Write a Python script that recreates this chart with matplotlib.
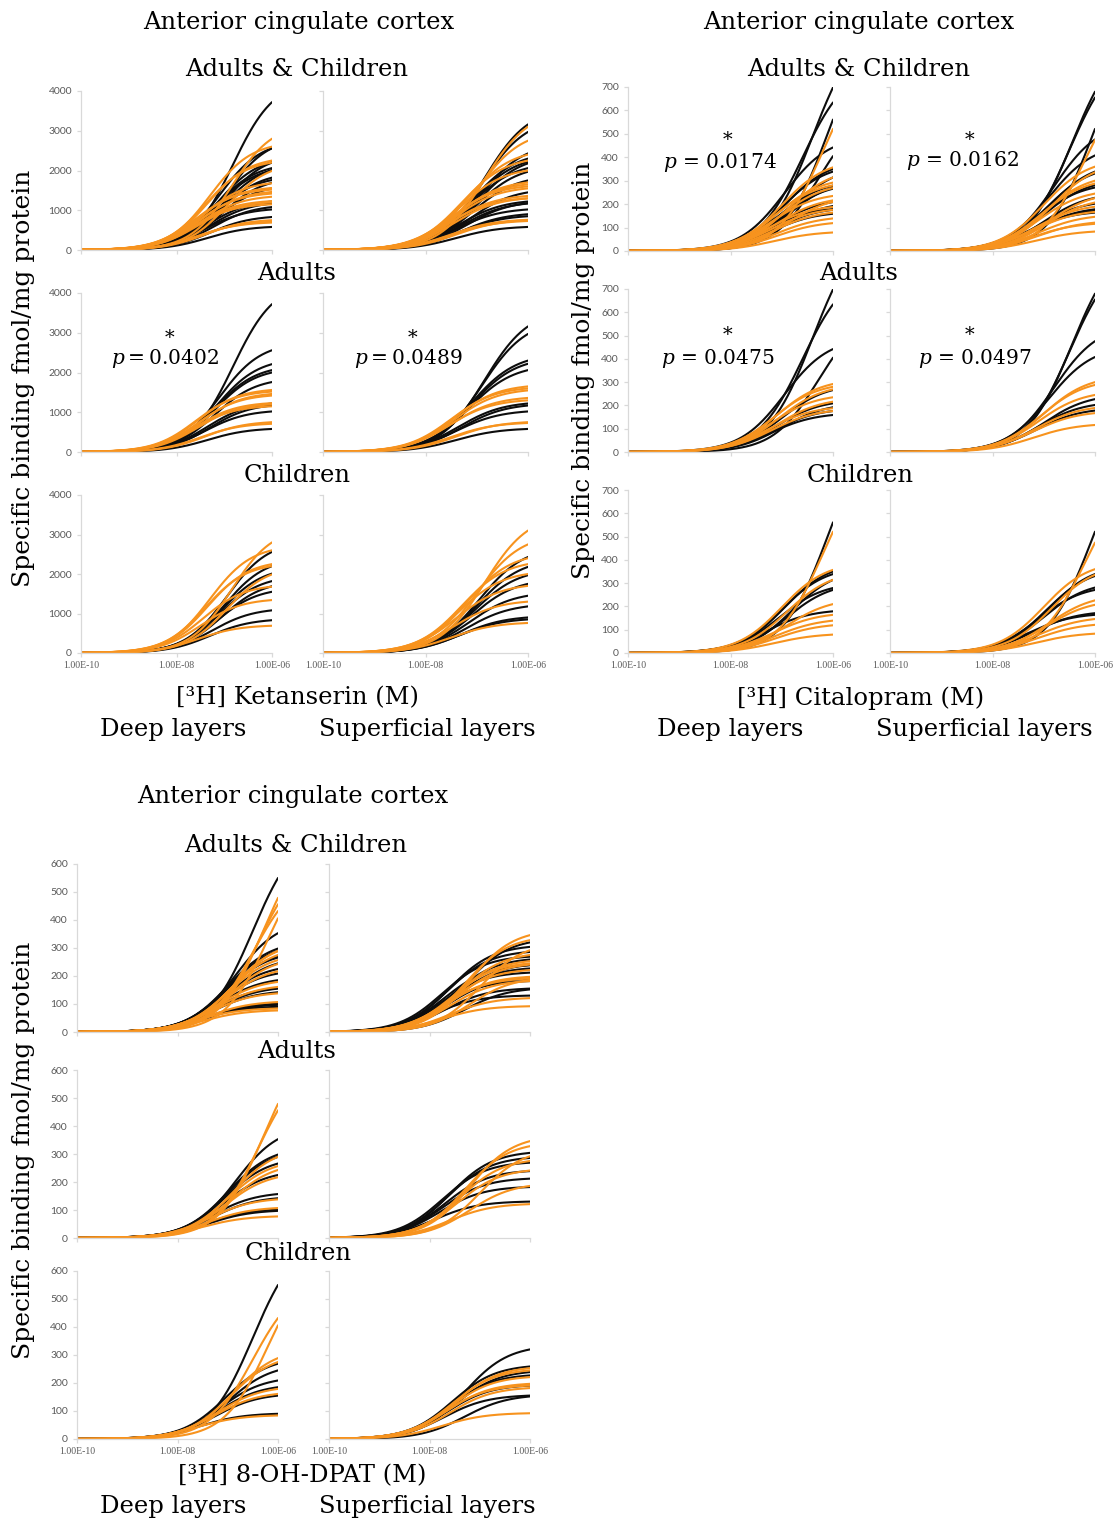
import numpy as np
import matplotlib
matplotlib.use("Agg")
import matplotlib.pyplot as plt

# ---------------- data (value at 1 µM, log10 Kd) ----------------
# Ketanserin
KET_DEEP_AD_BLACK_END = [3720, 2560, 2210, 2060, 2000, 1760, 1220, 1170, 1020, 580]
KET_DEEP_AD_BLACK_LOGKD = [-6.82, -7.1, -7.15, -7.2, -7.2, -7.2, -7.35, -7.3, -7.4, -7.35]
KET_DEEP_AD_ORANGE_END = [1560, 1520, 1460, 1420, 1230, 1200, 1150, 750, 710]
KET_DEEP_AD_ORANGE_LOGKD = [-7.55, -7.6, -7.5, -7.55, -7.6, -7.55, -7.65, -7.4, -7.5]
KET_SUP_AD_BLACK_END = [3160, 2970, 2300, 2220, 2060, 1220, 1170, 1020, 580]
KET_SUP_AD_BLACK_LOGKD = [-6.85, -6.9, -7.1, -7.1, -7.15, -7.35, -7.3, -7.4, -7.4]
KET_SUP_AD_ORANGE_END = [1650, 1600, 1550, 1360, 1300, 750, 730]
KET_SUP_AD_ORANGE_LOGKD = [-7.45, -7.5, -7.45, -7.5, -7.55, -7.4, -7.5]
KET_DEEP_CH_BLACK_END = [2560, 2200, 2010, 1820, 1690, 1550, 1080, 830]
KET_DEEP_CH_BLACK_LOGKD = [-6.95, -7.0, -7.05, -7.1, -7.05, -7.15, -7.25, -7.3]
KET_DEEP_CH_ORANGE_END = [2800, 2600, 2250, 2200, 1990, 1680, 1340, 690]
KET_DEEP_CH_ORANGE_LOGKD = [-6.85, -7.3, -7.35, -7.4, -6.95, -7.45, -7.5, -7.55]
KET_SUP_CH_BLACK_END = [2430, 2180, 1970, 1750, 1450, 1180, 900, 850]
KET_SUP_CH_BLACK_LOGKD = [-6.95, -7.0, -7.05, -7.1, -7.15, -7.2, -7.3, -7.35]
KET_SUP_CH_ORANGE_END = [3100, 2750, 2400, 2250, 2000, 1700, 1300, 760]
KET_SUP_CH_ORANGE_LOGKD = [-6.85, -7.0, -7.2, -7.3, -7.35, -7.4, -7.45, -7.5]

# Citalopram
CIT_DEEP_AD_BLACK_END = [698, 634, 442, 405, 266, 209, 192, 176, 159]
CIT_DEEP_AD_BLACK_LOGKD = [-6.4, -6.6, -6.95, -6.3, -7.0, -7.1, -7.0, -7.15, -7.2]
CIT_DEEP_AD_ORANGE_END = [292, 280, 269, 235, 216, 188, 176]
CIT_DEEP_AD_ORANGE_LOGKD = [-7.1, -7.15, -7.05, -7.2, -7.1, -7.25, -7.2]
CIT_SUP_AD_BLACK_END = [680, 655, 476, 408, 227, 202, 178]
CIT_SUP_AD_BLACK_LOGKD = [-6.45, -6.5, -6.8, -6.9, -7.0, -7.1, -7.15]
CIT_SUP_AD_ORANGE_END = [300, 288, 245, 189, 167, 116]
CIT_SUP_AD_ORANGE_LOGKD = [-7.0, -7.05, -7.1, -7.15, -7.2, -7.2]
CIT_DEEP_CH_BLACK_END = [561, 350, 339, 314, 279, 271, 179]
CIT_DEEP_CH_BLACK_LOGKD = [-6.1, -6.95, -7.0, -6.8, -7.05, -6.9, -7.3]
CIT_DEEP_CH_ORANGE_END = [521, 357, 314, 210, 164, 139, 119, 79]
CIT_DEEP_CH_ORANGE_LOGKD = [-6.2, -7.0, -6.9, -6.9, -7.15, -7.1, -7.1, -7.15]
CIT_SUP_CH_BLACK_END = [521, 339, 331, 281, 271, 171, 164]
CIT_SUP_CH_BLACK_LOGKD = [-6.05, -6.9, -6.95, -7.0, -7.1, -7.2, -7.3]
CIT_SUP_CH_ORANGE_END = [474, 360, 336, 226, 207, 146, 121, 83]
CIT_SUP_CH_ORANGE_LOGKD = [-6.2, -7.0, -6.85, -6.9, -6.95, -7.1, -7.1, -7.15]

# 8-OH-DPAT
DPAT_DEEP_AD_BLACK_END = [353, 298, 290, 266, 225, 157, 142, 101, 97]
DPAT_DEEP_AD_BLACK_LOGKD = [-6.85, -7.0, -7.0, -7.05, -7.1, -7.3, -7.3, -7.45, -7.4]
DPAT_DEEP_AD_ORANGE_END = [479, 456, 290, 257, 243, 217, 138, 107, 77]
DPAT_DEEP_AD_ORANGE_LOGKD = [-6.3, -6.4, -6.9, -7.0, -6.95, -7.05, -7.35, -7.4, -7.5]
DPAT_SUP_AD_BLACK_END = [304, 286, 269, 239, 212, 182, 130]
DPAT_SUP_AD_BLACK_LOGKD = [-7.6, -7.65, -7.75, -7.7, -7.75, -7.8, -7.9]
DPAT_SUP_AD_ORANGE_END = [346, 328, 292, 275, 241, 186, 121]
DPAT_SUP_AD_ORANGE_LOGKD = [-7.2, -7.3, -7.0, -7.4, -7.45, -7.2, -7.6]
DPAT_DEEP_CH_BLACK_END = [550, 269, 245, 209, 185, 155, 90]
DPAT_DEEP_CH_BLACK_LOGKD = [-6.5, -7.05, -7.0, -7.15, -7.2, -7.25, -7.55]
DPAT_DEEP_CH_ORANGE_END = [432, 406, 289, 275, 179, 161, 84]
DPAT_DEEP_CH_ORANGE_LOGKD = [-6.5, -6.2, -6.9, -6.95, -7.2, -7.25, -7.6]
DPAT_SUP_CH_BLACK_END = [320, 259, 239, 227, 191, 155, 152]
DPAT_SUP_CH_BLACK_LOGKD = [-7.3, -7.55, -7.5, -7.6, -7.65, -7.7, -7.3]
DPAT_SUP_CH_ORANGE_END = [253, 245, 221, 197, 191, 182, 92]
DPAT_SUP_CH_ORANGE_LOGKD = [-7.5, -7.55, -7.6, -7.65, -7.7, -7.6, -7.75]

X_TICKS = [1e-10, 1e-8, 1e-6]
X_TICK_LABELS = ["1.00E-10", "1.00E-08", "1.00E-06"]
KET_YTICKS = [0, 1000, 2000, 3000, 4000]
CIT_YTICKS = [0, 100, 200, 300, 400, 500, 600, 700]
DPAT_YTICKS = [0, 100, 200, 300, 400, 500, 600]

# ---------------- figure ----------------
W, H = 1119, 1522
fig = plt.figure(figsize=(W / 100, H / 100), dpi=100)
plt.rcParams["mathtext.fontset"] = "dejavuserif"
SERIF = "DejaVu Serif"
BLACK = "#0d0d0d"
ORANGE = "#f7931e"
GRID_GRAY = "#d9d9d9"
LABEL_GRAY = "#595959"
TXT = 17.5

conc = np.logspace(-10, -6, 300)


def binding(end, logkd):
    kd = 10.0 ** logkd
    return end * (conc / (kd + conc)) * ((kd + 1e-6) / 1e-6)


def add_ax(x0, x1, ytop, ybot):
    return fig.add_axes([x0 / W, 1 - ybot / H, (x1 - x0) / W, (ybot - ytop) / H])


def draw_panel(ax, groups, yticks, show_ylabels, show_xlabels):
    for color, ends, kds in groups:
        for e, k in zip(ends, kds):
            ax.plot(conc, binding(e, k), color=color, lw=1.5, solid_capstyle="round")
    ax.set_xscale("log")
    ax.set_xlim(1e-10, 1e-6)
    ax.set_ylim(0, yticks[-1])
    ax.set_xticks(X_TICKS)
    ax.minorticks_off()
    ax.set_yticks(yticks)
    for s in ["top", "right"]:
        ax.spines[s].set_visible(False)
    for s in ["left", "bottom"]:
        ax.spines[s].set_color(GRID_GRAY)
        ax.spines[s].set_linewidth(0.9)
    ax.tick_params(axis="both", colors=GRID_GRAY, length=3, width=0.9,
                   labelcolor=LABEL_GRAY)
    if show_ylabels:
        ax.set_yticklabels([str(v) for v in yticks], fontsize=7.5, family="Lato")
    else:
        ax.set_yticklabels([])
    if show_xlabels:
        ax.set_xticklabels(X_TICK_LABELS, fontsize=7, family="Liberation Serif")
        ax.tick_params(axis="x", pad=3)
    else:
        ax.set_xticklabels([])
    ax.patch.set_alpha(0)


def ftext(x, y, s, size=TXT, **kw):
    fig.text(x / W, 1 - y / H, s, ha=kw.pop("ha", "center"), va=kw.pop("va", "center"),
             fontsize=size, family=SERIF, **kw)


def block(cols, rows, data, yticks, title_pos, sub_pos, ad_pos, ch_pos, xl_pos,
          xl_text, deep_pos, sup_pos, yl_pos):
    (deep_ad_b, deep_ad_o, deep_ch_b, deep_ch_o,
     sup_ad_b, sup_ad_o, sup_ch_b, sup_ch_o) = data
    layer_sets = [
        (deep_ad_b, deep_ad_o, deep_ch_b, deep_ch_o),
        (sup_ad_b, sup_ad_o, sup_ch_b, sup_ch_o),
    ]
    for ci, (x0, x1) in enumerate(cols):
        adb, ado, chb, cho = layer_sets[ci]
        row_groups = [
            [(BLACK, adb[0] + chb[0], adb[1] + chb[1]),
             (ORANGE, ado[0] + cho[0], ado[1] + cho[1])],
            [(BLACK, adb[0], adb[1]), (ORANGE, ado[0], ado[1])],
            [(BLACK, chb[0], chb[1]), (ORANGE, cho[0], cho[1])],
        ]
        for ri, (yt, yb) in enumerate(rows):
            ax = add_ax(x0, x1, yt, yb)
            draw_panel(ax, row_groups[ri], yticks, ci == 0, ri == 2)
    ftext(*title_pos, "Anterior cingulate cortex")
    ftext(*sub_pos, "Adults & Children")
    ftext(*ad_pos, "Adults")
    ftext(*ch_pos, "Children")
    ftext(*xl_pos, xl_text)
    ftext(*deep_pos, "Deep layers")
    ftext(*sup_pos, "Superficial layers")
    ftext(*yl_pos, "Specific binding fmol/mg protein", size=18, rotation=90)


# Ketanserin block
block(cols=[(81, 272), (323, 528)],
      rows=[(91, 250), (293, 452), (495, 653)],
      data=((KET_DEEP_AD_BLACK_END, KET_DEEP_AD_BLACK_LOGKD),
            (KET_DEEP_AD_ORANGE_END, KET_DEEP_AD_ORANGE_LOGKD),
            (KET_DEEP_CH_BLACK_END, KET_DEEP_CH_BLACK_LOGKD),
            (KET_DEEP_CH_ORANGE_END, KET_DEEP_CH_ORANGE_LOGKD),
            (KET_SUP_AD_BLACK_END, KET_SUP_AD_BLACK_LOGKD),
            (KET_SUP_AD_ORANGE_END, KET_SUP_AD_ORANGE_LOGKD),
            (KET_SUP_CH_BLACK_END, KET_SUP_CH_BLACK_LOGKD),
            (KET_SUP_CH_ORANGE_END, KET_SUP_CH_ORANGE_LOGKD)),
      yticks=KET_YTICKS,
      title_pos=(299, 23), sub_pos=(297, 70), ad_pos=(297, 273), ch_pos=(297, 476),
      xl_pos=(297, 698), xl_text="[³H] Ketanserin (M)",
      deep_pos=(173, 729), sup_pos=(427, 729), yl_pos=(24, 378))

# Citalopram block
block(cols=[(628, 833), (890, 1095)],
      rows=[(87, 251), (289, 452), (490, 653)],
      data=((CIT_DEEP_AD_BLACK_END, CIT_DEEP_AD_BLACK_LOGKD),
            (CIT_DEEP_AD_ORANGE_END, CIT_DEEP_AD_ORANGE_LOGKD),
            (CIT_DEEP_CH_BLACK_END, CIT_DEEP_CH_BLACK_LOGKD),
            (CIT_DEEP_CH_ORANGE_END, CIT_DEEP_CH_ORANGE_LOGKD),
            (CIT_SUP_AD_BLACK_END, CIT_SUP_AD_BLACK_LOGKD),
            (CIT_SUP_AD_ORANGE_END, CIT_SUP_AD_ORANGE_LOGKD),
            (CIT_SUP_CH_BLACK_END, CIT_SUP_CH_BLACK_LOGKD),
            (CIT_SUP_CH_ORANGE_END, CIT_SUP_CH_ORANGE_LOGKD)),
      yticks=CIT_YTICKS,
      title_pos=(859, 23), sub_pos=(859, 70), ad_pos=(859, 273), ch_pos=(860, 476),
      xl_pos=(861, 698), xl_text="[³H] Citalopram (M)",
      deep_pos=(730, 729), sup_pos=(984, 729), yl_pos=(583, 370))

# 8-OH-DPAT block
block(cols=[(77, 278), (329, 530)],
      rows=[(864, 1032), (1070, 1238), (1271, 1439)],
      data=((DPAT_DEEP_AD_BLACK_END, DPAT_DEEP_AD_BLACK_LOGKD),
            (DPAT_DEEP_AD_ORANGE_END, DPAT_DEEP_AD_ORANGE_LOGKD),
            (DPAT_DEEP_CH_BLACK_END, DPAT_DEEP_CH_BLACK_LOGKD),
            (DPAT_DEEP_CH_ORANGE_END, DPAT_DEEP_CH_ORANGE_LOGKD),
            (DPAT_SUP_AD_BLACK_END, DPAT_SUP_AD_BLACK_LOGKD),
            (DPAT_SUP_AD_ORANGE_END, DPAT_SUP_AD_ORANGE_LOGKD),
            (DPAT_SUP_CH_BLACK_END, DPAT_SUP_CH_BLACK_LOGKD),
            (DPAT_SUP_CH_ORANGE_END, DPAT_SUP_CH_ORANGE_LOGKD)),
      yticks=DPAT_YTICKS,
      title_pos=(293, 797), sub_pos=(296, 845), ad_pos=(297, 1051), ch_pos=(298, 1254),
      xl_pos=(302, 1476), xl_text="[³H] 8-OH-DPAT (M)",
      deep_pos=(173, 1507), sup_pos=(427, 1507), yl_pos=(24, 1150))

# significance annotations
P_LABELS = [
    ((170, 338), (165, 359), "$\\it{p}$\u2009=\u20090.0402"),
    ((413, 338), (408, 359), "$\\it{p}$\u2009=\u20090.0489"),
    ((728, 140), (720, 162), "$\\it{p}$ = 0.0174"),
    ((970, 140), (962, 161), "$\\it{p}$ = 0.0162"),
    ((728, 335), (718, 358), "$\\it{p}$ = 0.0475"),
    ((970, 335), (975, 358), "$\\it{p}$ = 0.0497"),
]
for star_pos, p_pos, txt in P_LABELS:
    ftext(*star_pos, "*", size=14)
    ftext(*p_pos, txt, size=14.5)

fig.savefig("out.png", dpi=100)
